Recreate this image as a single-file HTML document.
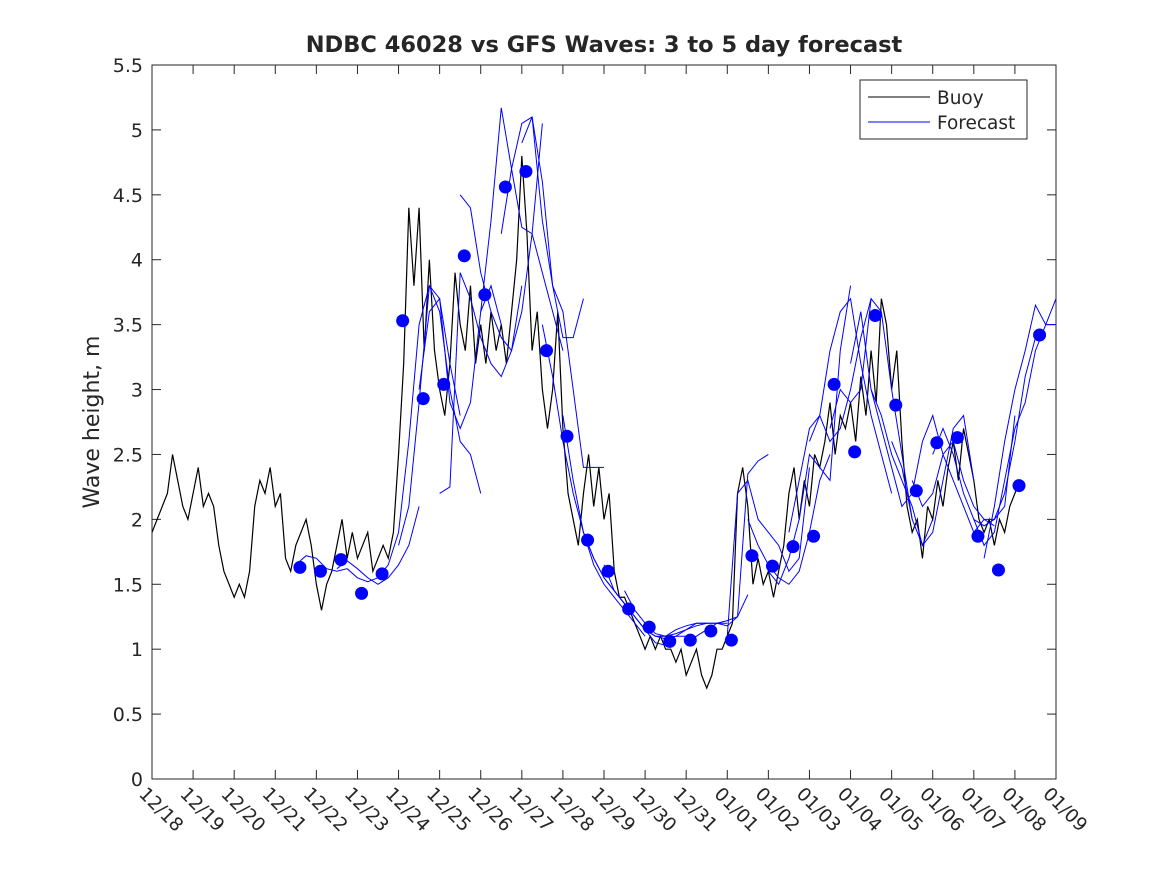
<!DOCTYPE html>
<html><head><meta charset="utf-8"><style>
body{margin:0;background:#fff}
svg text{font-family:"DejaVu Sans","Liberation Sans",sans-serif;fill:#262626}
</style></head><body>
<svg id="chart" width="1167" height="875" viewBox="0 0 1167 875">
<rect width="1167" height="875" fill="#fff"/>
<defs><clipPath id="clip"><rect x="152" y="65" width="904" height="714"/></clipPath></defs>
<text x="604" y="52" text-anchor="middle" font-size="22.5" font-weight="bold" fill="#000">NDBC 46028 vs GFS Waves: 3 to 5 day forecast</text>
<text transform="translate(99,422) rotate(-90)" text-anchor="middle" font-size="22">Wave height, m</text>
<g id="axes"></g>
<g id="plot" clip-path="url(#clip)"></g>
<g>
<rect x="860" y="80" width="167" height="59" fill="#fff" stroke="#262626" stroke-width="1"/>
<line x1="868" y1="97" x2="930" y2="97" stroke="#000" stroke-width="1"/>
<text x="937" y="104" font-size="18.5">Buoy</text>
<line x1="868" y1="122" x2="930" y2="122" stroke="#00f" stroke-width="1"/>
<text x="937" y="129" font-size="18.5">Forecast</text>
</g>
</svg>
<script>
const xTickLabels=["12/18","12/19","12/20","12/21","12/22","12/23","12/24","12/25","12/26","12/27","12/28","12/29","12/30","12/31","01/01","01/02","01/03","01/04","01/05","01/06","01/07","01/08","01/09"];
const yTicks=[0,0.5,1,1.5,2,2.5,3,3.5,4,4.5,5,5.5];
const buoyStep=0.125;
const buoy=[1.9,2.0,2.1,2.2,2.5,2.3,2.1,2.0,
2.2,2.4,2.1,2.2,2.1,1.8,1.6,1.5,
1.4,1.5,1.4,1.6,2.1,2.3,2.2,2.4,
2.1,2.2,1.7,1.6,1.8,1.9,2.0,1.8,
1.5,1.3,1.5,1.6,1.8,2.0,1.7,1.9,
1.7,1.8,1.9,1.6,1.7,1.8,1.7,1.9,
2.5,3.2,4.4,3.8,4.4,3.3,4.0,3.3,
3.0,2.8,3.2,3.9,3.5,3.3,3.8,3.2,
3.5,3.2,3.6,3.3,3.5,3.2,3.6,4.0,
4.8,4.2,3.3,3.6,3.0,2.7,3.0,3.6,
2.7,2.2,2.0,1.8,2.2,2.5,2.1,2.4,
2.0,2.2,1.6,1.4,1.4,1.3,1.2,1.1,
1.0,1.1,1.0,1.1,1.0,1.0,0.9,1.0,
0.8,0.9,1.0,0.8,0.7,0.8,1.0,1.0,
1.1,1.2,2.2,2.4,2.1,1.5,1.7,1.5,
1.6,1.4,1.6,1.8,2.2,2.4,2.0,2.3,
2.1,2.5,2.4,2.6,2.9,2.5,2.8,2.7,
2.9,2.6,3.1,2.8,3.3,2.9,3.7,3.5,
3.0,3.3,2.6,2.1,1.9,2.0,1.7,2.1,
2.0,2.3,2.1,2.4,2.6,2.3,2.7,2.5,
2.3,2.0,1.9,2.0,1.8,2.0,1.9,2.1,
2.2,2.3];
const runStarts=[3.5,4.5,5.5,6.0,6.5,7.0,7.5,8.0,8.5,9.0,9.5,10.0,10.5,11.0,11.5,12.0,12.5,13.0,14.0,14.5,15.0,15.5,16.0,16.5,17.0,17.5,18.0,18.5,19.0,19.5,20.0,20.25];
const runValues=[
[1.65,1.72,1.70,1.62,1.60,1.62,1.55,1.52,1.55],
[1.62,1.68,1.62,1.55,1.50,1.55,1.65,1.80,2.10],
[1.55,1.65,1.90,2.6,3.5,3.8,3.7,3.2,2.8],
[1.8,2.1,2.9,3.8,3.6,3.0,2.6,2.5,2.2],
[3.0,3.6,3.7,2.9,2.7,2.9,3.6,3.8,3.5],
[2.2,2.25,3.9,3.7,3.4,3.2,3.1,3.3,3.8],
[4.5,4.4,3.9,3.6,3.4,3.3,3.6,4.2,5.05],
[3.6,4.3,5.17,4.7,4.25,4.2,3.9,3.6,3.3],
[4.2,4.7,5.05,5.1,4.6,3.8,3.4,3.4,3.7],
[4.9,5.1,4.3,3.8,3.6,3.0,2.4,2.4,2.4],
[3.5,3.1,2.6,2.2,1.9,1.7,1.55,1.45,1.35],
[2.8,2.3,1.9,1.65,1.5,1.4,1.3,1.2,1.1],
[1.9,1.7,1.55,1.45,1.35,1.25,1.15,1.05,1.03],
[1.65,1.45,1.35,1.25,1.15,1.1,1.08,1.1,1.1],
[1.45,1.3,1.2,1.12,1.1,1.12,1.15,1.18,1.2],
[1.15,1.1,1.1,1.15,1.18,1.2,1.2,1.2,1.2],
[1.08,1.1,1.15,1.2,1.2,1.2,1.18,1.25,1.42],
[1.05,1.1,1.15,1.2,1.22,1.25,2.35,2.45,2.5],
[1.1,2.2,2.3,2.0,1.9,1.8,1.6,1.7,2.4],
[2.0,1.8,1.65,1.55,1.5,1.6,1.9,2.3,2.5],
[1.6,1.5,1.7,2.0,2.5,2.4,2.3,3.3,3.8],
[1.9,2.3,2.7,2.8,2.6,2.7,3.0,3.4,3.7],
[2.6,2.8,3.3,3.6,3.7,3.2,2.8,2.5,2.2],
[2.7,3.0,2.9,3.0,3.7,3.6,3.0,2.5,2.0],
[3.2,3.6,3.0,2.8,2.5,2.3,2.1,1.8,2.0],
[3.0,2.7,2.4,2.1,2.2,2.6,2.8,2.5,2.3],
[2.6,2.4,2.0,1.8,1.9,2.3,2.7,2.8,2.3],
[2.3,2.1,2.2,2.5,2.6,2.3,2.1,2.0,1.95],
[2.5,2.7,2.5,2.2,2.0,1.95,2.0,2.1,2.8],
[2.3,2.1,1.9,2.0,2.0,2.2,2.6,3.1,3.4],
[2.0,1.8,1.9,2.3,2.7,2.9,3.3,3.5,3.7],
[1.7,2.1,2.6,3.0,3.3,3.65,3.5,3.5]];
const dotStart=3.6;
const dotValues=[1.63,1.60,1.69,1.43,1.58,3.53,2.93,3.04,4.03,3.73,4.56,4.68,3.30,2.64,1.84,1.60,1.31,1.17,1.06,1.07,1.14,1.07,1.72,1.64,1.79,1.87,3.04,2.52,3.57,2.88,2.22,2.59,2.63,1.87,1.61,2.26,3.42];

const NS="http://www.w3.org/2000/svg";
const X0=152,X1=1056,Y0=779,Y1=65;
const xs=d=>X0+(X1-X0)*d/22;
const ys=v=>Y0-(Y0-Y1)*v/5.5;
function mk(tag,attrs,parent){const e=document.createElementNS(NS,tag);for(const k in attrs)e.setAttribute(k,attrs[k]);parent.appendChild(e);return e;}
const axes=document.getElementById('axes'),plot=document.getElementById('plot');
const box=mk('rect',{x:X0,y:Y1,width:X1-X0,height:Y0-Y1,fill:'none',stroke:'#262626','stroke-width':1},axes);


yTicks.forEach(v=>{const y=ys(v);
 mk('line',{x1:X0,y1:y,x2:X0+9,y2:y,stroke:'#262626'},axes);
 mk('line',{x1:X1,y1:y,x2:X1-9,y2:y,stroke:'#262626'},axes);
 const t=mk('text',{x:X0-9,y:y+7,'text-anchor':'end','font-size':19},axes);t.textContent=v;
 
 
});
xTickLabels.forEach((l,i)=>{const x=xs(i);
 mk('line',{x1:x,y1:Y0,x2:x,y2:Y0-9,stroke:'#262626'},axes);
 mk('line',{x1:x,y1:Y1,x2:x,y2:Y1+9,stroke:'#262626'},axes);
 const t=mk('text',{transform:`translate(${x-14},${Y0+16}) rotate(45)`,'font-size':18.5},axes);t.textContent=l;
 
 
});
const bp=mk('polyline',{points:buoy.map((v,i)=>xs(i*buoyStep)+','+ys(v)).join(' '),fill:'none',stroke:'#000','stroke-width':1.2},plot);


runValues.forEach((vals,r)=>{
 const p=mk('polyline',{points:vals.map((v,i)=>xs(runStarts[r]+i*0.25)+','+ys(v)).join(' '),fill:'none',stroke:'#00f','stroke-width':1},plot);
 
 
});
dotValues.forEach((v,i)=>{
 const c=mk('circle',{cx:xs(dotStart+i*0.5),cy:ys(v),r:6.5,fill:'#00f'},plot);
 
 
});
</script>
</body></html>
